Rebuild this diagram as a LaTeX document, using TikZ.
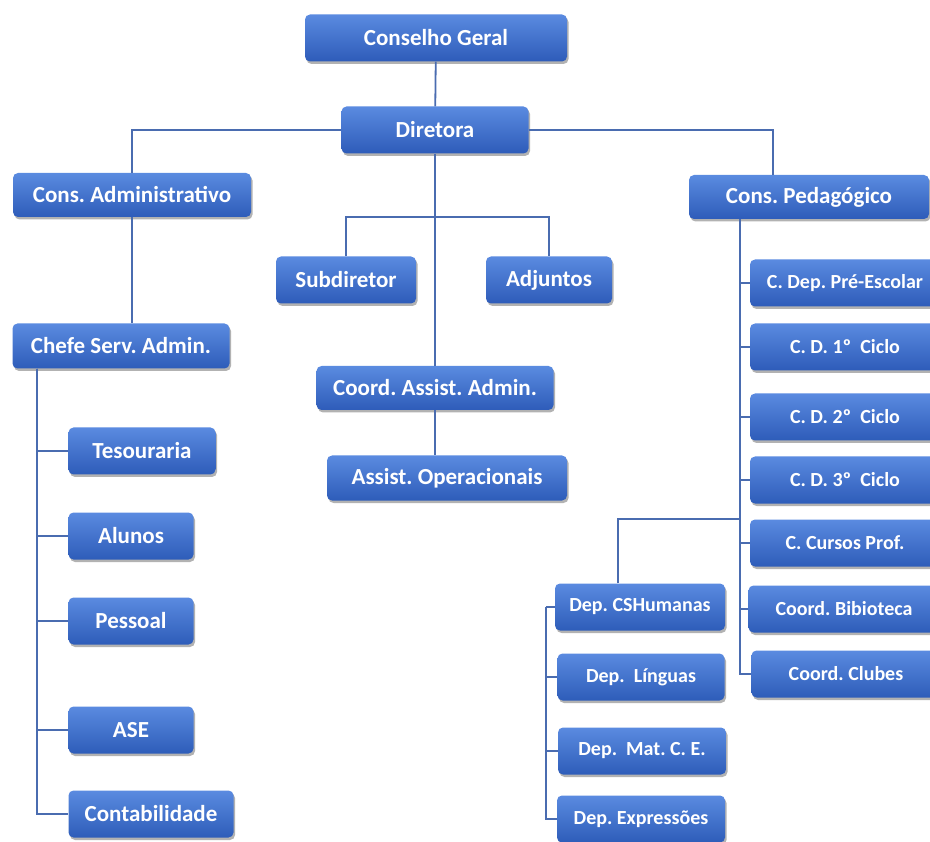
\documentclass[tikz,border=0pt]{standalone}
\usepackage{fontspec}
\setmainfont{Carlito}
\usetikzlibrary{shadows}

\definecolor{boxtop}{HTML}{5A8BE0}
\definecolor{boxbot}{HTML}{2E5CB9}
\definecolor{linkblue}{HTML}{4A6CB0}

\frenchspacing

\begin{document}
\begin{tikzpicture}[
  x=1pt, y=-1pt,
  every node/.style={align=center, text=white, font=\fontsize{23}{27}\selectfont\bfseries},
  unit/.style={rectangle, rounded corners=5pt, minimum height=47pt, inner sep=2pt,
    top color=boxtop, bottom color=boxbot,
    drop shadow={shadow xshift=1.5pt, shadow yshift=-2.5pt, opacity=0.3, fill=black}},
  minor/.style={unit, font=\fontsize{20}{24}\selectfont\bfseries},
  link/.style={draw=linkblue, line width=1.8pt}
]
\useasboundingbox (0,0) rectangle (930,842);
\clip (0,0) rectangle (930,842);

% --- TOP ---
\node[unit, minimum width=262pt] (geral) at (436,38) {Conselho Geral};
\node[unit, minimum width=187pt] (diretora) at (435,130) {Diretora};

% --- SECOND LEVEL ---
\node[unit, minimum width=238pt, minimum height=44pt] (admin) at (132,195) {Cons. Administrativo};
\node[unit, minimum width=240pt, minimum height=44pt] (pedag) at (809,197) {Cons. Pedagógico};
\node[unit, minimum width=140pt] (subdir) at (346,280) {Subdiretor};
\node[unit, minimum width=126pt] (adjuntos) at (549,280) {Adjuntos};

% --- CENTRE COLUMN ---
\node[unit, minimum width=237pt, minimum height=44pt] (coordaa) at (435,388) {Coord. Assist. Admin.};
\node[unit, minimum width=240pt, minimum height=45pt] (assistop) at (447,478) {Assist. Operacionais};

% --- ADMIN BRANCH ---
\node[unit, minimum width=217pt, minimum height=45pt] (chefe) at (121,346) {Chefe Serv. Admin.};
\node[unit, minimum width=147pt] (tesour) at (142,451) {Tesouraria};
\node[unit, minimum width=125pt] (alunos) at (131,536) {Alunos};
\node[unit, minimum width=125pt] (pessoal) at (131,621) {Pessoal};
\node[unit, minimum width=125pt] (ase) at (131,730) {ASE};
\node[unit, minimum width=165pt] (contab) at (151,814) {Contabilidade};

% --- PEDAGOGIC BRANCH ---
\node[minor, minimum width=190pt] (preesc) at (845,283) {C. Dep. Pré-Escolar};
\node[minor, minimum width=190pt] (ciclo1) at (845,347) {C. D. 1º\ \ Ciclo};
\node[minor, minimum width=190pt] (ciclo2) at (845,417) {C. D. 2º\ \ Ciclo};
\node[minor, minimum width=190pt] (ciclo3) at (845,480) {C. D. 3º\ \ Ciclo};
\node[minor, minimum width=190pt] (cursos) at (845,543) {C. Cursos Prof.};
\node[minor, minimum width=191pt] (biblio) at (844,609) {Coord. Bibioteca};
\node[minor, minimum width=189pt] (clubes) at (846,674) {Coord. Clubes};

% --- DEPARTMENTS ---
\node[minor, minimum width=170pt] (cshum) at (640,607) {Dep. CSHumanas};
\node[minor, minimum width=167pt] (linguas) at (641,677) {Dep.\ \ Línguas};
\node[minor, minimum width=168pt] (matce) at (642,751) {Dep.\ \ Mat. C. E.};
\node[minor, minimum width=168pt] (express) at (641,819) {Dep. Expressões};

% --- CONNECTORS ---
\draw[link] (geral) -- (diretora);
\draw[link] (diretora.west) -| (admin.north);
\draw[link] (diretora.east) -| ([xshift=-36pt]pedag.north);
\draw[link] (diretora.south) -- (coordaa.north);
\draw[link] (subdir.north) -- ++(0,-39) -| (adjuntos.north);
\draw[link] (coordaa.south) -- (coordaa.south |- assistop.north);
\draw[link] (admin.south) -- (admin.south |- chefe.north);

\foreach \n in {tesour,alunos,pessoal,ase,contab}
  \draw[link] ([xshift=25pt]chefe.south west) |- (\n.west);

\foreach \n in {preesc,ciclo1,ciclo2,ciclo3,cursos,biblio,clubes}
  \draw[link] ([xshift=51pt]pedag.south west) |- (\n.west);

\draw[link] ([xshift=-22pt]cshum.north) |- ([xshift=-10pt]cursos.north west);

\foreach \n in {cshum,linguas,matce,express}
  \draw[link] ([xshift=-9pt]cshum.west) |- (\n.west);

\end{tikzpicture}
\end{document}
